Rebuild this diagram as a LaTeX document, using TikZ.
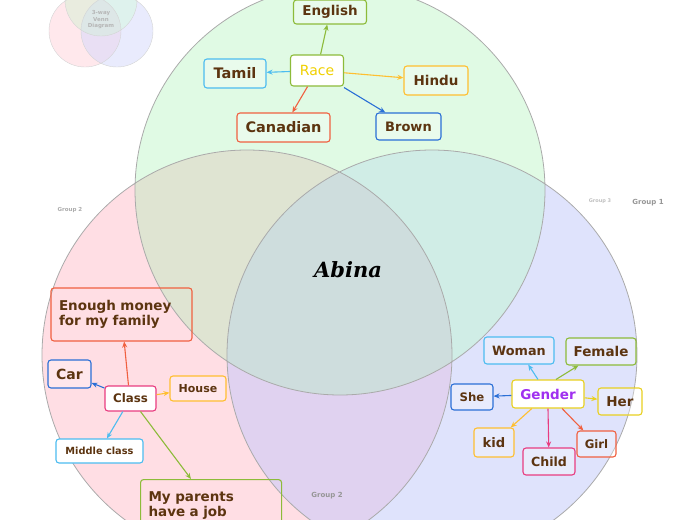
\documentclass[tikz,border=0pt]{standalone}
\usepackage{fontspec}
\setmainfont{DejaVu Sans}
\newfontfamily\abfont{DejaVu Serif}
\usetikzlibrary{arrows.meta}
\definecolor{txt}{RGB}{92,52,16}
\definecolor{cgreen}{RGB}{141,187,58}
\definecolor{cblue}{RGB}{42,111,214}
\definecolor{clight}{RGB}{76,188,240}
\definecolor{corange}{RGB}{255,191,48}
\definecolor{cred}{RGB}{240,96,64}
\definecolor{cpink}{RGB}{232,60,128}
\definecolor{cyellow}{RGB}{232,208,32}
\definecolor{racetxt}{RGB}{240,208,0}
\definecolor{gendtxt}{RGB}{160,48,240}
\definecolor{vgreen}{RGB}{224,250,228}
\definecolor{vpink}{RGB}{255,222,228}
\definecolor{vblue}{RGB}{223,227,252}
\definecolor{vgp}{RGB}{223,228,210}
\definecolor{vpb}{RGB}{224,210,240}
\definecolor{vgb}{RGB}{208,237,230}
\definecolor{vtri}{RGB}{206,221,221}
\definecolor{vline}{RGB}{170,170,170}
\definecolor{grp}{RGB}{150,150,150}
\tikzset{
  box/.style={draw=#1, rounded corners=3pt, line width=1.1pt, fill=white, fill opacity=0.3, text opacity=1, draw opacity=1, text=txt, inner sep=0pt, font=\bfseries\fontsize{13.5}{15}\selectfont},
  wbox/.style={box=#1, fill opacity=1},
  arr/.style={draw=#1, line width=1.1pt, -{Stealth[length=6pt,width=5pt]}},
  grplab/.style={text=grp, font=\bfseries\fontsize{#1}{#1}\selectfont, inner sep=0pt},
}
\newcommand\vennthree[4]{%
  % #1 green centre, #2 pink centre, #3 blue centre, #4 radius
  \fill[vgreen] #1 circle (#4);
  \fill[vpink] #2 circle (#4);
  \fill[vblue] #3 circle (#4);
  \begin{scope}\clip #2 circle (#4); \fill[vgp] #1 circle (#4);\end{scope}
  \begin{scope}\clip #2 circle (#4); \fill[vpb] #3 circle (#4);\end{scope}
  \begin{scope}\clip #1 circle (#4); \fill[vgb] #3 circle (#4);\end{scope}
  \begin{scope}\clip #2 circle (#4); \clip #3 circle (#4); \fill[vtri] #1 circle (#4);\end{scope}
}
\begin{document}
\begin{tikzpicture}[x=1pt,y=-1pt]
\useasboundingbox (0,0) rectangle (697,520);
\clip (0,0) rectangle (697,520);
% small icon
\begin{scope}[opacity=0.7, transparency group]
\vennthree{(101,0)}{(85,31)}{(117,31)}{36}
\end{scope}
\draw[vline!50, line width=0.4pt] (85,31) circle (36) (117,31) circle (36) (101,0) circle (36);
\node[align=center, text=grp!70, font=\bfseries\fontsize{5.5}{6.5}\selectfont, inner sep=0pt] (icon) at (101,20) {3-way\\Venn\\Diagram};
% main circles
\vennthree{(340,190)}{(247,355)}{(432,355)}{205}
\draw[vline, line width=0.8pt] (340,190) circle (205) (247,355) circle (205) (432,355) circle (205);
% group labels
\node[grplab=5.5, text=grp!80] (g2a) at (70,210) {Group 2};
\node[grplab=5, text=grp!60] (g3) at (600,201) {Group 3};
\node[grplab=7] (g1) at (648,202.5) {Group 1};
\node[grplab=7] (g2b) at (327,496) {Group 2};
\node[inner sep=0pt, font=\abfont\bfseries\itshape\fontsize{21}{22}\selectfont] (abina) at (348,270) {Abina};
% Race cluster
\node[box=cgreen, minimum width=73pt, minimum height=24pt] (english) at (330,12) {English};
\node[wbox=cgreen, minimum width=53pt, minimum height=31pt, text=racetxt, font=\fontsize{14}{15}\selectfont] (race) at (317,70.5) {Race};
\node[box=clight, minimum width=62pt, minimum height=29pt, font=\bfseries\fontsize{14.5}{15}\selectfont] (tamil) at (235,73.5) {Tamil};
\node[box=corange, minimum width=64pt, minimum height=29pt] (hindu) at (436,80.5) {Hindu};
\node[box=cred, minimum width=93pt, minimum height=29pt, font=\bfseries\fontsize{14.5}{15}\selectfont] (canadian) at (283.5,127.5) {Canadian};
\node[box=cblue, minimum width=65pt, minimum height=27pt, font=\bfseries\fontsize{13}{15}\selectfont] (brown) at (408.5,126.5) {Brown};
\draw[arr=cgreen] (race) -- (english);
\draw[arr=clight] (race) -- (tamil);
\draw[arr=corange] (race) -- (hindu);
\draw[arr=cred] (race) -- (canadian);
\draw[arr=cblue] (race.south east) ++(0,1) -- (brown);
% Class cluster
\node[box=cred, fill opacity=0, minimum width=141pt, minimum height=53pt, text width=125pt, align=left, inner xsep=8pt] (enough) at (121.5,314.5) {Enough money\\[0pt]for my family};
\node[box=cblue, minimum width=43pt, minimum height=28pt, font=\bfseries\fontsize{14}{15}\selectfont] (car) at (69.5,374) {Car};
\node[wbox=cpink, minimum width=51pt, minimum height=25pt, font=\bfseries\fontsize{11.8}{13}\selectfont] (class) at (130.5,398.5) {Class};
\node[box=corange, minimum width=56pt, minimum height=25pt, font=\bfseries\fontsize{11}{13}\selectfont] (house) at (198,388.5) {House};
\node[wbox=clight, minimum width=87pt, minimum height=24pt, font=\bfseries\fontsize{9.8}{11}\selectfont] (middle) at (99.5,451) {Middle class};
\node[box=cgreen, fill opacity=0, anchor=north west, minimum width=141pt, minimum height=52pt, text width=125pt, align=left, inner xsep=8pt, inner ysep=6pt] (parents) at (140,479) {My parents\\[0pt]have a job};
\draw[arr=cred] (class.north) ++(-2,0) -- (enough);
\draw[arr=cblue] (class) -- (car);
\draw[arr=corange] (class) -- (house);
\draw[arr=clight] (class) -- (middle);
\draw[arr=cgreen] (class.south) ++(10,0) -- (191,479);
% Gender cluster
\node[box=clight, minimum width=70pt, minimum height=27pt, font=\bfseries\fontsize{12.8}{15}\selectfont] (woman) at (519,350.5) {Woman};
\node[box=cgreen, minimum width=70pt, minimum height=27pt] (female) at (601,351.5) {Female};
\node[box=cblue, minimum width=42pt, minimum height=26pt, font=\bfseries\fontsize{11.7}{13}\selectfont] (she) at (472,397) {She};
\node[wbox=cyellow, minimum width=72pt, minimum height=28pt, text=gendtxt] (gender) at (548,394) {Gender};
\node[box=cyellow, minimum width=44pt, minimum height=27pt] (her) at (620,401.5) {Her};
\node[box=corange, minimum width=40pt, minimum height=29pt, font=\bfseries\fontsize{13.1}{15}\selectfont] (kid) at (494,442.5) {kid};
\node[box=cpink, minimum width=52pt, minimum height=27pt, font=\bfseries\fontsize{12.6}{15}\selectfont] (child) at (549,461.5) {Child};
\node[box=cred, minimum width=39pt, minimum height=26pt, font=\bfseries\fontsize{11.7}{13}\selectfont] (girl) at (596.5,444) {Girl};
\draw[arr=clight] (gender.north) ++(-10,0) -- (woman);
\draw[arr=cgreen] (gender.north) ++(8,0) -- (female);
\draw[arr=cblue] (gender) -- (she);
\draw[arr=cyellow] (gender) -- (her);
\draw[arr=corange] (gender) -- (kid);
\draw[arr=cpink] (gender.south) -- (child);
\draw[arr=cred] (gender) -- (girl);
\end{tikzpicture}
\end{document}
